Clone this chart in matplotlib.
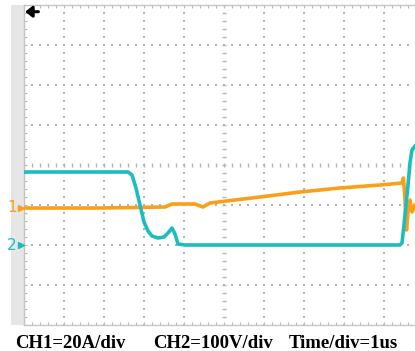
import numpy as np
import matplotlib
matplotlib.use("Agg")
import matplotlib.pyplot as plt
from matplotlib.ticker import MultipleLocator
from matplotlib.patches import Rectangle

# ---- data (time in us = divisions, amplitude in divisions) ----
ch2_t = [0.0, 2.6, 2.7, 2.8, 2.9, 3.0, 3.1, 3.2, 3.35, 3.5, 3.6, 3.7, 3.775, 3.85, 4.025,
         9.4, 9.45, 9.5, 9.55, 9.6, 9.65, 9.7, 9.775]
ch2_v = [-0.175, -0.175, -0.25, -0.575, -1.0, -1.425, -1.65, -1.775, -1.825, -1.8, -1.7, -1.575,
         -1.725, -1.975, -2.0, -2.0, -1.95, -1.5, -1.0, -0.5, 0.05, 0.375, 0.475]

ch1_t = [0.0, 1.9, 3.525, 3.7, 4.275, 4.475, 4.65, 5.9, 6.9, 7.9, 8.9, 9.45, 9.4875,
         9.525, 9.5625, 9.6, 9.65, 9.7, 9.775]
ch1_i = [-1.075, -1.075, -1.05, -0.975, -0.975, -1.05, -0.95, -0.8, -0.675, -0.575, -0.5,
         -0.45, -0.325, -0.875, -1.625, -1.175, -0.875, -1.175, -1.0]

ch1_ref = -1.075
ch2_ref = -2.0
footer = ["CH1=20A/div", "CH2=100V/div", "Time/div=1us"]

ORANGE = "#F9A01B"
CYAN = "#1CBDBD"
GRID = "#B4B4B4"

W, H = 415, 351
fig = plt.figure(figsize=(W / 100, H / 100), dpi=100)

def fx(px):
    return px / W

def fy(py):
    return (H - py) / H

# left gray strip
fig.patches.append(Rectangle((fx(11), fy(325)), fx(24) - fx(11), fy(5) - fy(325),
                             transform=fig.transFigure, facecolor="#E6E6E6", edgecolor="none",
                             zorder=-1))

ax = fig.add_axes([fx(24), fy(325), 400 / W, 320 / H])
ax.set_xlim(0, 10)
ax.set_ylim(-4, 4)
for s in ax.spines.values():
    s.set_color("#C4C4C4")
    s.set_linewidth(1.0)
ax.xaxis.set_major_locator(MultipleLocator(1))
ax.yaxis.set_major_locator(MultipleLocator(1))
ax.xaxis.set_minor_locator(MultipleLocator(0.2))
ax.yaxis.set_minor_locator(MultipleLocator(0.2))
ax.tick_params(which="both", direction="in", length=2.5, width=0.8, color="#B8B8B8",
               top=True, right=True, labelbottom=False, labelleft=False)

# dotted graticule
ys = np.arange(-4, 4.001, 0.2)
ts = np.arange(0, 10.001, 0.2)
for t in range(1, 10):
    if t == 5:
        continue
    ax.scatter(np.full_like(ys, t), ys, s=1.3, marker="s", color=GRID, linewidths=0, zorder=1)
for y in range(-3, 4):
    if y == 0:
        continue
    ax.scatter(ts, np.full_like(ts, y), s=1.3, marker="s", color=GRID, linewidths=0, zorder=1)
ax.plot(np.full_like(ys, 5), ys, ls="none", marker="_", ms=3, mew=1.0, color=GRID, zorder=1)
ax.plot(ts, np.zeros_like(ts), ls="none", marker="|", ms=3, mew=1.0, color=GRID, zorder=1)

# traces
ax.plot(ch1_t, ch1_i, color=ORANGE, lw=2.6, zorder=3, solid_joinstyle="round")
ax.plot(ch2_t, ch2_v, color=CYAN, lw=2.6, zorder=4, solid_joinstyle="round")

# trigger arrow
ax.annotate("", xy=(0.003, 0.979), xytext=(0.036, 0.979), xycoords="axes fraction",
            arrowprops=dict(arrowstyle="-|>,head_width=0.32,head_length=0.4", lw=2.2,
                            color="black", shrinkA=0, shrinkB=0))

# channel reference markers
ytr = ax.get_yaxis_transform()
for ref, lab, col in [(ch1_ref, "1", ORANGE), (ch2_ref, "2", CYAN)]:
    ax.text(-0.03, ref, lab, color=col, fontsize=11, ha="center", va="center",
            transform=ytr, clip_on=False, zorder=5)
    ax.plot([-0.008], [ref], marker=">", ms=4.5, color=col, transform=ytr, clip_on=False, zorder=5)

# footer text
for txt, px in zip(footer, [15, 153, 289]):
    fig.text(fx(px), fy(348), txt, fontsize=13.5, fontweight="bold", family="Liberation Serif",
             ha="left", va="baseline")

fig.savefig("out.png", dpi=100)
